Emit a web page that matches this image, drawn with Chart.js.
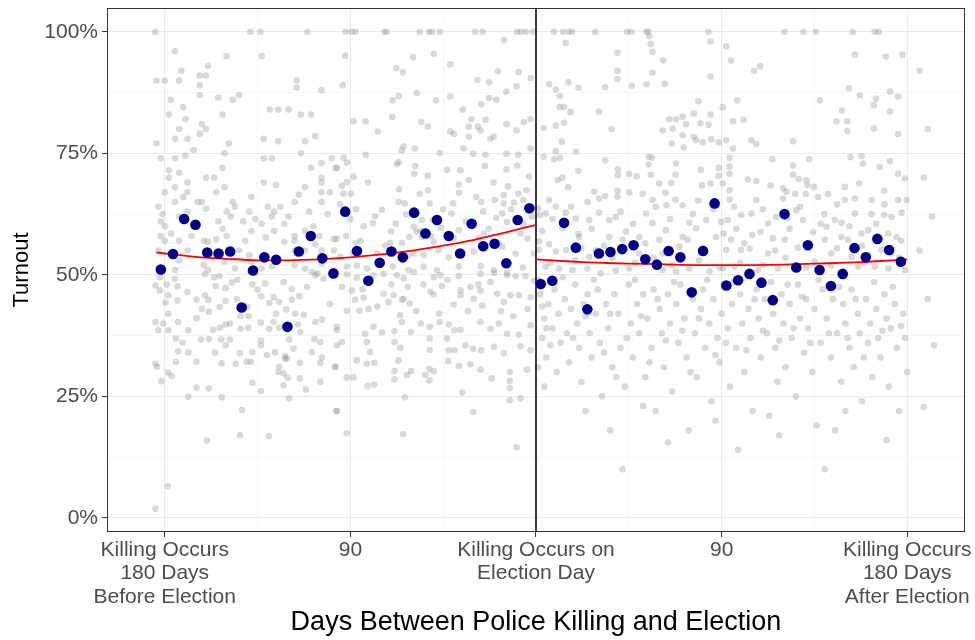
<!DOCTYPE html>
<html>
<head>
<meta charset="utf-8">
<title>Turnout by days between police killing and election</title>
<script src="https://cdn.jsdelivr.net/npm/chart.js@4/dist/chart.umd.min.js"></script>
<style>
  html, body { margin: 0; padding: 0; background: #ffffff; }
  #wrap { width: 975px; height: 640px; }
</style>
</head>
<body>
<div id="wrap"><canvas id="turnoutChart" width="975" height="640"></canvas></div>
<script>
/* Turnout vs. days between a police killing and the election.
   Gray = individual cases, navy = binned means, red = fitted curve
   on each side of Election Day. */

// ---- axis ticks -------------------------------------------------------
const xTickValues = [-180, -135, -90, -45, 0, 45, 90, 135, 180];
const xTickLabels = {
  '-180': ['Killing Occurs', '180 Days', 'Before Election'],
  '-90': '90',
  '0': ['Killing Occurs on', 'Election Day'],
  '90': '90',
  '180': ['Killing Occurs', '180 Days', 'After Election'],
};
const yTickValues = [0, 12.5, 25, 37.5, 50, 62.5, 75, 87.5, 100];
const yTickLabels = { 0: '0%', 25: '25%', 50: '50%', 75: '75%', 100: '100%' };

// ---- binned means (navy dots) ----------------------------------------
const beforeBinDays = [-181.9, -176.0, -170.6, -165.1, -159.4, -153.9, -148.3, -142.7, -137.2, -131.7,
  -126.0, -120.5, -115.0, -109.2, -103.6, -98.2, -92.5, -86.8, -81.3, -75.8, -70.1, -64.6, -59.1,
  -53.6, -48.0, -42.3, -36.8, -31.2, -25.6, -20.1, -14.4, -8.9, -3.2];
const beforeBinTurnout = [51.1, 54.3, 61.5, 60.3, 54.6, 54.4, 54.8, 43.3, 50.9, 53.6,
  53.1, 39.3, 54.8, 58.0, 53.4, 50.3, 63.0, 54.9, 48.8, 52.5, 54.8, 53.6, 62.8,
  58.5, 61.3, 58.0, 54.4, 60.5, 55.9, 56.4, 52.4, 61.3, 63.7];
const afterBinDays = [2.3, 7.9, 13.6, 19.3, 24.9, 30.5, 36.1, 41.8, 47.3, 53.0, 58.6, 64.3, 70.0,
  75.5, 81.0, 86.6, 92.3, 98.0, 103.5, 109.3, 114.8, 120.5, 126.2, 131.8, 137.5, 143.0, 148.7,
  154.4, 159.9, 165.5, 171.2, 176.9];
const afterBinTurnout = [48.1, 48.8, 60.7, 55.6, 42.9, 54.4, 54.7, 55.3, 56.1, 53.2, 52.1, 54.9, 53.6,
  46.4, 54.9, 64.7, 47.8, 48.9, 50.2, 48.4, 44.8, 62.5, 51.5, 56.1, 51.0, 47.7, 50.2,
  55.5, 53.6, 57.4, 55.1, 52.7];

// ---- fitted curves (red) ---------------------------------------------
const beforeFitDays = [-184, -165, -150, -135, -120, -105, -90, -75, -60, -45, -30, -15, 0];
const beforeFitTurnout = [54.6, 53.7, 53.3, 53.0, 53.0, 53.2, 53.6, 54.2, 55.0, 56.0, 57.2, 58.7, 60.3];
const afterFitDays = [0, 15, 30, 45, 60, 75, 90, 105, 120, 135, 150, 165, 180];
const afterFitTurnout = [53.2, 52.8, 52.5, 52.3, 52.2, 52.0, 52.0, 52.0, 52.1, 52.3, 52.5, 52.8, 53.2];

// ---- individual cases (gray), [days, turnout %] ------------------------
const grayBefore = [
  [-184.6,100],[-138.5,100],[-133.6,100],[-110.8,100],[-92.3,100],[-89.4,100],[-87.5,100],[-73.4,100],
  [-72.4,100],[-56.4,100],[-52,100],[-50.5,100],[-46.6,100],[-29.6,100],[-25.8,100],[-9.2,100],[-7.3,100],
  [-4.9,100],[-1.5,100],
  [-175,96],[-150,95],[-133,95],[-172,92],[-159,93],[-160,91],[-163,91],[-184,90],[-180,90],[-173,90],
  [-163,89],[-116,90],[-116,88.5],[-104,88],[-163,87],[-154,86.5],[-147,86],[-144,87],[-177,86],[-171,84.5],
  [-129,84],[-125,84],[-120,84],[-114,83],[-109,83],[-178,83],[-152,83],[-170,82],[-162,81],[-173,80],
  [-160,80],[-163,79],[-169,78],[-175,78],[-132,78],[-125,77.5],[-112,77.5],[-107,78.5],[-149,77],[-184,77],
  [-166,75.7],[-182,74],[-175,74],[-170,74.5],[-151,75],[-132,74],[-128,74],[-114,75],[-99,74],[-152,72],
  [-178,71.5],[-109,72],[-104,73],[-97,72],[-178,70],[-173,71],[-160,70],[-156,70],[-104,70],[-169,69],
  [-132,69],[-126,68.5],[-112,68],[-104,69],[-175,68],[-151,68],[-180,67],[-169,67],[-155,67],[-104,67],
  [-100,67],[-164,65],[-183,64],[-175,65],[-162,65],[-147,65],[-138,66],[-130,64],[-124,64],[-117,65],
  [-104,65],[-169,63],[-160,63.6],[-150,63],[-146,64],[-139,63],[-110,63],[-127,63],[-128,62],[-182,61],
  [-173,62],[-154,61],[-142,61],[-133,60.5],[-122,60.5],[-180,60],[-167,58],[-150,58],[-138,59],[-131,57.7],
  [-117,58],[-112,59],[-105,58],[-98,57.4],[-182,58],[-180,57],[-173,57],[-161,57],[-159,56.8],[-155,57.3],
  [-122,56.8],[-117,57],[-107,56.3],[-104,55],[-98,55],[-183,55],[-169,55],[-144,55],[-139,54],[-117,55],
  [-112,55],[-173,53],[-161,52],[-151,52.7],[-138,52.7],[-128,51.7],[-117,52],[-104,52.3],[-175,51],
  [-159,51],[-146,51.3],[-133,51.3],[-112,51.3],[-106,50.3],
  [-182.4,49.5],[-175.1,49.2],[-173.8,47.6],[-182.4,46.8],[-184.5,47.8],[-178.3,45.8],[-179.6,44.3],
  [-173.8,44.7],[-164.6,44.9],[-158.9,44.9],[-160.5,45.8],[-155.3,47.7],[-150.5,47.3],[-147.5,48.4],
  [-144.8,49],[-153.4,49.7],[-160.5,50.1],[-137.5,48],[-131.3,48.2],[-122.4,48.5],[-118.4,47.1],[-114.7,45.6],
  [-107,49.9],[-103,49.2],[-127.1,45.4],[-133.3,45.6],[-129.2,44.2],[-124.5,44.4],[-118.4,44.9],[-121.1,42.9],
  [-116.8,42],[-112.6,41.8],[-103.8,40.8],[-107,40.3],[-108.7,50.6],[-150.5,44.6],[-153.4,43.4],[-158.6,42.4],
  [-164.6,41.1],[-178.3,42],[-173.5,40.3],[-184.5,40.3],[-180.8,40],[-183.2,38.6],[-178.3,38.6],[-168.6,38.6],
  [-156.5,38.7],[-153.2,39.1],[-150.5,39.8],[-148.4,40],[-143.3,38.9],[-139.4,39.1],[-133.4,40.2],[-127.3,40.3],
  [-129.4,38.9],[-124.5,39.1],[-115.5,39.8],[-114.3,38.2],[-96.5,38.6],[-96.5,35.5],[-174.6,36.9],[-171.4,36.1],
  [-162.4,36.7],[-158.6,36.8],[-152.6,36.7],[-150.5,35.5],[-148.4,36.7],[-143.3,41.5],[-139.4,41.5],[-133.3,36.5],
  [-133.3,35.5],[-119.7,36.7],[-107.4,36.8],[-104.6,36.2],[-173.5,34.3],[-168.6,34],[-155.6,34],[-143.6,33.9],
  [-137.5,34.1],[-130.5,33.5],[-126.5,34.1],[-121.6,33.3],[-117.6,34.8],[-108.7,34.1],[-103.8,33],[-184.5,31.7],
  [-183.7,31.1],[-174.6,32.1],[-164.6,32.1],[-152.4,31.8],[-145.6,31.7],[-140.3,32.1],[-138.3,32.1],[-124.5,31.1],
  [-120.8,32.8],[-114.5,31.9],[-104.6,31.9],[-97.3,31.1],[-181.6,28.1],[-178.3,29.9],[-176.7,29.2],[-164.6,26.8],
  [-158.6,26.6],[-168.6,24.9],[-152.4,24.8],[-137.5,27.8],[-133.4,26.1],[-122.4,27.3],[-119.7,24.6],[-114.5,28.7],
  [-111.6,26.4],[-104.6,28],[-96.8,22],[-142.5,22.2],[-143.5,17],[-129.6,16.8],[-159.5,15.9],[-178.5,6.5],
  [-184.5,1.9],[-124.9,30],[-122.4,29.7],[-120.5,28.8],[-121.6,32.8],
  [-15.6,98.3],[-92.5,95.1],[-59.6,94.8],[-49.6,95.5],[-41.5,93.3],[-67.7,92.5],[-64.5,91.7],[-18.5,91.9],
  [-8.4,91.7],[-2.6,90.5],[-28.4,90.1],[-22.7,89.6],[-14.4,87.7],[-9.4,88.8],[-93.7,89],[-57.7,87.4],
  [-48.5,85.9],[-69.5,85.9],[-66.6,86.8],[-41.5,86.7],[-22.7,86.4],[-19.3,86],[-26.6,85.1],[-35.5,84],
  [-31.3,82],[-24.5,81.9],[-88.5,81.6],[-82.6,81.6],[-76.7,79.5],[-69.7,82.5],[-55.6,81.4],[-52.5,80.5],
  [-32.6,80.5],[-28.2,80.5],[-41.5,79.5],[-39.9,79],[-22.1,78],[-20.5,78.4],[-32.6,78.4],[-26.9,79.7],
  [-14.3,81],[-9.4,79.7],[-5.9,81.4],[-2.6,82],[-64.2,76.4],[-65,75.6],[-58.8,76],[-35.2,76],[-30.5,74.9],
  [-24.5,74.7],[-14.3,74.9],[-8.6,74.7],[-2.6,76],[-46.7,75.1],[-82.6,74.7],[-93.3,74.1],[-91.7,73.1],
  [-67.4,72.8],[-66.6,73.2],[-58.5,72.4],[-59,70.8],[-52.5,70.4],[-43.1,71.6],[-36.6,71.5],[-24.8,72.4],
  [-14.3,71.7],[-9.1,72.5],[-3.4,70.2],[-96.6,72],[-88.5,70.2],[-91.7,69.1],[-94.2,68.3],[-81.5,69],
  [-66.4,67.6],[-56.4,66.7],[-52.4,67.4],[-37.4,68.6],[-37.3,66.9],[-32.6,69.5],[-20.6,69],[-13.6,68.2],
  [-8.6,66.7],[-15.6,66.4],[-4.6,67.4],[-93.3,66.7],[-89.8,66.7],[-66.6,65],[-63.7,64.7],[-51.5,64.7],
  [-40.2,64.7],[-26.6,65],[-20,65.4],[-15.6,64.7],[-10.7,64.9],[-6.2,65.4],[-87.3,63.5],[-74.7,63.4],
  [-63,62.4],[-55.3,61.3],[-50.1,61.3],[-41,62.6],[-25.6,63],[-16.4,62.6],[-83.6,60],[-79.1,60.6],
  [-70.3,58.9],[-59.3,59.9],[-58,58.9],[-61.4,57.8],[-55.3,57.8],[-46,59.7],[-37.4,59.2],[-19.3,61.7],
  [-14,60.9],[-96.6,57.4],[-92,58],[-87.2,56.6],[-70.7,56.6],[-65,56.6],[-49.6,56.8],[-47.2,55.1],
  [-59.3,54.4],[-27.7,57.5],[-25.3,58.5],[-7.5,58.5],[-4.2,57.5],[-95,53.7],[-88.5,54.4],[-77.1,54.4],
  [-54.5,54.1],[-42.3,53.6],[-30.2,54.8],[-16.4,55.8],[-9.9,54.4],[-91.7,51.7],[-86.9,51.9],[-82,51.3],
  [-69.4,51.7],[-61.8,51],[-54.5,51.7],[-48,50.9],[-37.4,51.7],[-26.9,51.8],[-20.4,51],[-14,50.4],
  [-6.3,51.5],[-1,54.4],
  [-91.7,50.1],[-86.9,49.4],[-78.8,49.9],[-73.9,50.2],[-67.4,49.9],[-64.2,49.3],[-59.3,50.6],[-49.6,49.5],
  [-46.4,49.9],[-37.4,49.7],[-26.9,50.2],[-20.4,50.4],[-14,49.9],[-9.9,49.7],[-5.1,49.7],[-1,48.8],
  [-89.3,46.8],[-83.6,45.3],[-87.7,44.9],[-73.9,46.1],[-71.5,44.4],[-69,45.8],[-64.2,45.1],[-62.2,47.5],
  [-61.3,44.1],[-65,44.9],[-54.5,48],[-51.2,46.5],[-49.6,46],[-45.6,47.7],[-39.9,43.9],[-36.6,46.8],
  [-36.6,45.8],[-31.8,47.5],[-30.2,45.1],[-26.9,46.8],[-26.1,43.7],[-22.1,48.5],[-18.8,46.1],[-15.6,44.4],
  [-12.3,45.8],[-8.3,45.8],[-2.6,45.4],[-91.7,42.6],[-85.6,42.6],[-81.2,43],[-78.8,39.3],[-82.8,37.9],
  [-74.7,38.2],[-68.7,38.4],[-65.8,41.7],[-65,40.3],[-60.6,38.2],[-55.8,40],[-51.5,39.3],[-46.7,40.3],
  [-42.3,39.8],[-39.6,38.6],[-36.6,38.7],[-26.9,40.3],[-22.1,38.9],[-18,40],[-14,37.9],[-8.3,37.7],
  [-2.6,39.6],[-96.6,39.3],[-94.1,36.2],[-82,36.2],[-80.4,34.1],[-68.6,36.2],[-65.8,35],[-51.5,36.9],
  [-51.5,34.6],[-43.1,36.9],[-42.3,34.5],[-39.6,34.5],[-34.2,35.5],[-30.5,34.8],[-26.6,34.5],[-20.4,35.2],
  [-15.6,33.9],[-7.5,35.3],[-2.6,34.5],[-86.9,32.4],[-82,31.7],[-78.4,31.9],[-66.6,32.4],[-60.6,30.2],
  [-62.6,29.4],[-68.6,30.2],[-68.6,28.5],[-53.7,29.4],[-51.7,28.3],[-49.6,30.2],[-51.7,30.7],[-42.6,32.3],
  [-37.4,31.3],[-31.8,31.6],[-26.9,30.5],[-21.6,28.7],[-12.7,30],[-12.7,28.2],[-12.7,26.7],[-4.4,30.5],
  [-81.7,27.1],[-78.4,27.4],[-91.7,28.9],[-88.5,28.9],[-97.4,31.1],[-63.5,24.8],[-35.7,25.8],[-30.5,21.8],
  [-12.7,24.2],[-7.5,24.6],[-96.6,22],[-91.7,17.4],[-64.5,17.2],[-9.4,14.5],
  [-181,62.5],[-177,58.5],[-171,66],[-166,60],[-157,54],[-152,59.5],[-148,62],[-141,57],[-136,61.5],
  [-127,59],[-120,62],[-115,66.5],[-108,60],[-101,62.5],[-95,64.5],[-90,61.5],[-85,57],[-78,62],[-73,56],
  [-68,60.5],[-62,54],[-56,59],[-51,58],[-45,63.5],[-40,57.5],[-34,61],[-29,66],[-23,59.5],[-18,56.5],
  [-12,63.5],[-6,60.5],[-2,62],[-179,48],[-169,46.5],[-162,43],[-156,49.5],[-145,45],[-140,43.5],
  [-135,47],[-126,42],[-111,47.5],[-100,44],[-94,47.5],[-84,47],[-77,43.5],[-70,48],[-58,42.5],[-47,42],
  [-43,49],[-33,42.5],[-28,48],[-17,42.5],[-11,41.5],[-4,43]
];

const grayAfter = [
  [8.7,100],[13.1,100],[16,100],[17.5,100],[28.7,100],[44.2,100],[46.2,100],[53.5,100],[54.4,100],
  [83.6,100],[120.5,100],[129.7,100],[135.6,100],[153.5,100],[164.2,100],[166.2,100],
  [14.4,97.7],[54.9,99.1],[55.7,97.5],[56.5,95.9],[39.5,95.7],[61.7,94.1],[84.6,98],[39.5,92],[39.5,90.3],
  [56.5,91.6],[84.6,90.8],[6.3,89.2],[9.6,88.1],[15.7,89.6],[20.6,88.5],[33.5,88.6],[46.5,88.9],[53.6,89.2],
  [62.5,89.3],[11.5,86.8],[13.6,84.5],[11.5,84.5],[16.7,83.5],[13.6,81.3],[9.6,80.7],[3.6,80.2],[30.6,83.6],
  [36.6,80],[12.5,77.4],[9.6,75.4],[19.4,75.4],[3.6,74.3],[8.8,73.8],[11.7,74.1],[33.5,73.6],[54.6,74.3],
  [56.2,74.1],[54.6,72.7],[39.7,71.7],[39.7,70.5],[45.2,70.8],[48.8,70.3],[55.7,70.6],[67.6,70.6],[79.9,71.6],
  [88.6,72],[88.5,70.4],[20.6,71.4],[12.8,70],[10.5,69.5],[15.6,68],[1.8,62.3],[6.3,65.4],[9.6,64],
  [14.4,62.8],[20.6,58.4],[25,65],[28.2,67.1],[30.6,65.7],[33.5,66.2],[39.5,67.3],[39.5,66.1],[45.2,67],
  [51.7,66.7],[56.5,65.4],[62.7,66.9],[59.8,68.8],[65.6,68.9],[63.3,64.3],[67.6,65.5],[71.1,64.3],[78.6,65.3],
  [80.5,68.4],[84.6,68.8],[90.6,68.8],[67.9,72.9],[77.6,77.7],[61.4,79.7],[66.3,80.1],[71.1,78.7],[76.5,78.4],
  [79.7,81.2],[83.6,80.9],[84.6,83],[78.7,85.7],[90.6,84.5],[64.6,82],[67.9,82],[71.1,82.5],[72.7,81],
  [76.5,83.2],[84.9,77.9],[88.6,77.3],[71.6,76.2],[65.8,77],[80.8,77.3],[1.1,63.7],[4.7,62.6],[12.8,59.6],
  [19.3,61.6],[25.8,61.3],[30.6,62.8],[35.5,61.3],[38.7,61.9],[43.6,58.9],[50.1,57.8],[53.3,62.6],[56.5,60.6],
  [59.8,57.2],[63,59.2],[71.1,57.8],[74.4,60.7],[77.6,59.6],[82.5,61.3],[89.8,60.9],[1.5,56.9],[6.3,56.3],
  [9.6,54.8],[14.7,55.1],[20.9,57.8],[25.8,53.7],[35.5,57.8],[42,57.2],[50.1,54.4],[61.4,54.4],[69.5,55.8],
  [73.6,57.2],[87.3,57.8],[92.2,55.1],[1.5,55.1],[4.7,51.7],[11.2,51.3],[17.7,51],[25,51.3],[31.4,50.3],
  [38.7,50.9],[45.2,51.3],[61.4,51],[67.9,50.7],[74.4,51.3],[84.1,50.7],[90.6,51.3],
  [92.2,97],[94.6,94.1],[105.7,92],[108.7,92.9],[154.6,95.3],[169.6,94.9],[177.7,95.3],[151.7,88.4],
  [157,86.9],[171.6,87.7],[175.6,86.7],[164.8,86.2],[137.6,85.9],[97.6,85.9],[148.4,83.8],[163.8,84.9],
  [171.6,83.6],[95.5,81.6],[100.6,81.9],[145.7,81.6],[150.9,81.6],[150.9,79.6],[163.8,80.1],[175.6,79],
  [104.4,77.7],[106.8,76.9],[124.6,77.5],[92.2,77.7],[95.5,76],[114.6,73.8],[132.5,73.8],[124.6,72.5],
  [152.5,74.2],[157.8,74.4],[158.6,72.9],[166.7,72.2],[171.6,73.4],[93.8,74.1],[93.8,72.3],[93.8,70.8],
  [175.6,70.8],[178.9,69.8],[102.7,69.6],[106.8,69.3],[113.8,68.4],[124.6,70.6],[127.4,69.7],[131.1,69.5],
  [131.6,68.5],[134.8,68.1],[141.6,66.6],[119.8,67.8],[121.4,67.1],[125.7,66.7],[130.8,66.6],[136.8,66],
  [149.7,68.1],[149.7,65.4],[154.6,65.7],[156.7,68.8],[162.7,65.4],[168.8,67.3],[175.6,65.4],[179.7,65.4],
  [93.8,67.4],[93.8,65.5],[106.8,65.4],[119.8,65.7],[126.2,63.3],[122.2,61.7],[112.5,60.6],[116.5,61.9],
  [104.4,62.6],[99.5,62.3],[93,61.3],[97.1,59.5],[104.8,58.2],[108.9,58.8],[114.9,57.5],[120.6,57.2],
  [129.5,61.3],[134.3,58.8],[139.7,62.5],[140.8,59.9],[144.9,61.3],[148.1,60.7],[154.6,62.6],[162.7,62.5],
  [168.8,62.3],[172.4,61.9],[177.3,62.8],[148.1,57.8],[151.3,57.2],[157.8,58.5],[161.1,59.2],[170.8,58.5],
  [174.8,57.8],[94.6,57.2],[99.5,55.1],[103.6,55.4],[112.5,54.4],[127,55.6],[140,57.2],[143.2,54.4],
  [153,53.7],[161.1,54.1],[167.5,55.1],[172.4,54.4],[96.3,51.7],[107.6,51],[117.3,51.3],[135.1,52.7],
  [143.2,52],[156.2,51.7],[164.3,51.7],[170.8,51.3],[178.9,51],
  [186,92],[190,80],[188,70],[192,62],[186,55],[190,45],[193,35.5],[188,22.8],
  [2,46],[4,41],[3,37],[6,44],[8,39],[5,33],[9,47],[11,42],[12,36],[10,30],[14,45],[15,38],[17,43],
  [16,32],[19,48],[20,40],[21,35],[23,44],[22,28],[25,46],[26,38],[27,33],[29,42],[30,47],[31,36],
  [32,25],[34,44],[35,39],[37,31],[38,46],[40,42],[41,35],[42,10],[43,27],[45,48],[46,40],[47,33],
  [49,44],[50,38],[52,46],[53,29],[54,41],[56,35],[57,47],[58,22],[60,43],[61,38],[62,31],[64,46],
  [65,40],[66,26],[68,44],[69,36],[70,48],[72,41],[73,33],[74,18],[76,45],[77,38],[78,29],[80,43],
  [81,47],[82,35],[84,40],[85,24],[86,45],[88,37],[89,32],[90,42],[91,48],[93,39],[94,27],[95,44],
  [97,35],[98,14],[99,46],[100,40],[101,30],[103,43],[104,37],[105,22],[107,47],[108,41],[109,33],
  [111,45],[112,38],[113,21],[115,42],[116,35],[117,28],[119,46],[120,40],[121,31],[123,44],[124,37],
  [126,25],[127,48],[128,41],[130,34],[131,45],[132,39],[134,30],[135,43],[136,19],[138,36],[139,47],
  [140,10],[141,41],[143,33],[144,45],[145,18],[146,38],[148,28],[149,44],[150,40],[152,35],[153,47],
  [154,31],[156,42],[157,38],[158,24],[160,45],[161,36],[162,40],[163,29],[165,43],[166,37],[167,33],
  [169,46],[170,41],[171,27],[172,39],[174,44],[175,35],[176,22],[178,42],[179,37],[180,30],
  [1,49],[3,43.5],[5,39],[7,35.5],[1,31],[4,27],[13,49.5],[18,37],[24,41.5],[28,49],[33,34],[36,42],
  [39,29],[44,37],[48,49],[51,41.5],[55,32],[59,45],[63,36.5],[67,48.5],[71,38.5],[75,30],[79,41],
  [83,49],[87,33.5],[92,36],[96,48.5],[102,34.5],[106,45],[110,38.5],[114,48.5],[118,36.5],[122,48],
  [125,39],[129,45.5],[133,36],[137,49],[142,38],[147,47.5],[151,37],[155,45],[159,33],[164,48.5],
  [168,38.5],[173,47.5],[177,39.5],[36,18],[64,15.5],[87,20],[118,17],[150,22],[170,16],[24,22],[52,23],
  [3,59],[8,61.5],[17,64],[22,55.5],[27,59.5],[33,56],[41,63],[47,60.5],[53,56.5],[58,64],[65,61.5],
  [70,53.5],[76,62.5],[81,55.5],[86,63.5],[91,58.5],[96,64],[101,56.5],[110,63.5],[116,55],[123,59.5],
  [128,64],[133,56],[138,60.5],[146,64.5],[152,60],[158,56],[165,60.5],[169,64.5],[177,57],[7,52.5],
  [19,53],[29,55],[37,53.5],[48,52.5],[57,53.5],[66,52],[79,53],[89,51.5],[99,52.5],[110,52],[121,53.5],
  [131,51.5],[146,55.5],[159,52.5],[176,53.5]
];

// ---- helpers ----------------------------------------------------------
const toXY = (xs, ys) => xs.map((x, i) => ({ x, y: ys[i] }));
const pairsToXY = (pairs) => pairs.map(([x, y]) => ({ x, y }));

const FONT = "'Liberation Sans', Arial, Helvetica, sans-serif";
const isMajorX = (v) => v % 90 === 0;
const isMajorY = (v) => v % 25 === 0;

// ggplot-style panel border drawn round the plotting area
const panelBorder = {
  id: 'panelBorder',
  afterDraw(chart) {
    const { ctx, chartArea: a } = chart;
    ctx.save();
    ctx.strokeStyle = '#333333';
    ctx.lineWidth = 1;
    ctx.strokeRect(a.left + 0.5, a.top + 0.5, a.right - a.left - 1, a.bottom - a.top - 1);
    ctx.restore();
  },
};

const lineDefaults = { showLine: true, pointRadius: 0, pointHoverRadius: 0, fill: false };

new Chart(document.getElementById('turnoutChart'), {
  type: 'scatter',
  data: {
    datasets: [
      {
        label: 'Binned mean (before)',
        data: toXY(beforeBinDays, beforeBinTurnout),
        backgroundColor: '#00008b',
        borderWidth: 0,
        pointRadius: 5.3,
        order: 0,
      },
      {
        label: 'Binned mean (after)',
        data: toXY(afterBinDays, afterBinTurnout),
        backgroundColor: '#00008b',
        borderWidth: 0,
        pointRadius: 5.3,
        order: 0,
      },
      {
        ...lineDefaults,
        label: 'Fit (before)',
        data: toXY(beforeFitDays, beforeFitTurnout),
        borderColor: '#ff0000',
        borderWidth: 1.8,
        tension: 0.4,
        order: 1,
      },
      {
        ...lineDefaults,
        label: 'Fit (after)',
        data: toXY(afterFitDays, afterFitTurnout),
        borderColor: '#ff0000',
        borderWidth: 1.8,
        tension: 0.4,
        order: 1,
      },
      {
        ...lineDefaults,
        label: 'Election Day',
        data: [{ x: 0, y: -2.9 }, { x: 0, y: 104.9 }],
        borderColor: '#000000',
        borderWidth: 1.5,
        order: 2,
      },
      {
        label: 'Cases',
        data: pairsToXY(grayBefore.concat(grayAfter)),
        backgroundColor: 'rgba(150, 150, 150, 0.36)',
        borderWidth: 0,
        pointRadius: 3.3,
        order: 3,
      },
    ],
  },
  options: {
    responsive: false,
    animation: false,
    events: [],
    layout: { padding: { top: 8, right: 10, left: 0, bottom: 0 } },
    plugins: { legend: { display: false }, tooltip: { enabled: false } },
    scales: {
      x: {
        type: 'linear',
        min: -208,
        max: 208,
        afterBuildTicks: (axis) => { axis.ticks = xTickValues.map((v) => ({ value: v })); },
        afterFit: (axis) => {
          axis.height = 108;
          axis.paddingLeft = 0;
          axis.paddingRight = 0;
        },
        border: { display: false },
        grid: {
          color: (c) => (isMajorX(c.tick.value) ? '#ebebeb' : '#f4f4f4'),
          lineWidth: (c) => (isMajorX(c.tick.value) ? 1.1 : 0.7),
          tickColor: (c) => (isMajorX(c.tick.value) ? '#333333' : 'rgba(0,0,0,0)'),
          tickWidth: 1,
          tickLength: 5,
        },
        ticks: {
          autoSkip: false,
          maxRotation: 0,
          padding: 2,
          color: '#4d4d4d',
          font: { family: FONT, size: 21, lineHeight: 1.1 },
          callback: (v) => xTickLabels[String(v)] || '',
        },
        title: {
          display: true,
          text: 'Days Between Police Killing and Election',
          color: '#000000',
          font: { family: FONT, size: 27, lineHeight: 1.2 },
          padding: { top: 0, bottom: 1 },
        },
      },
      y: {
        type: 'linear',
        min: -2.9,
        max: 104.9,
        afterBuildTicks: (axis) => { axis.ticks = yTickValues.map((v) => ({ value: v })); },
        afterFit: (axis) => {
          axis.width = 107;
          axis.paddingTop = 0;
          axis.paddingBottom = 0;
        },
        border: { display: false },
        grid: {
          color: (c) => (isMajorY(c.tick.value) ? '#ebebeb' : '#f4f4f4'),
          lineWidth: (c) => (isMajorY(c.tick.value) ? 1.1 : 0.7),
          tickColor: (c) => (isMajorY(c.tick.value) ? '#333333' : 'rgba(0,0,0,0)'),
          tickWidth: 1,
          tickLength: 5,
        },
        ticks: {
          autoSkip: false,
          padding: 4,
          color: '#4d4d4d',
          font: { family: FONT, size: 21 },
          callback: (v) => yTickLabels[v] || '',
        },
        title: {
          display: true,
          text: 'Turnout',
          color: '#000000',
          font: { family: FONT, size: 22, lineHeight: 1.2 },
          padding: { top: 9, bottom: 0 },
        },
      },
    },
  },
  plugins: [panelBorder],
});
</script>
</body>
</html>
